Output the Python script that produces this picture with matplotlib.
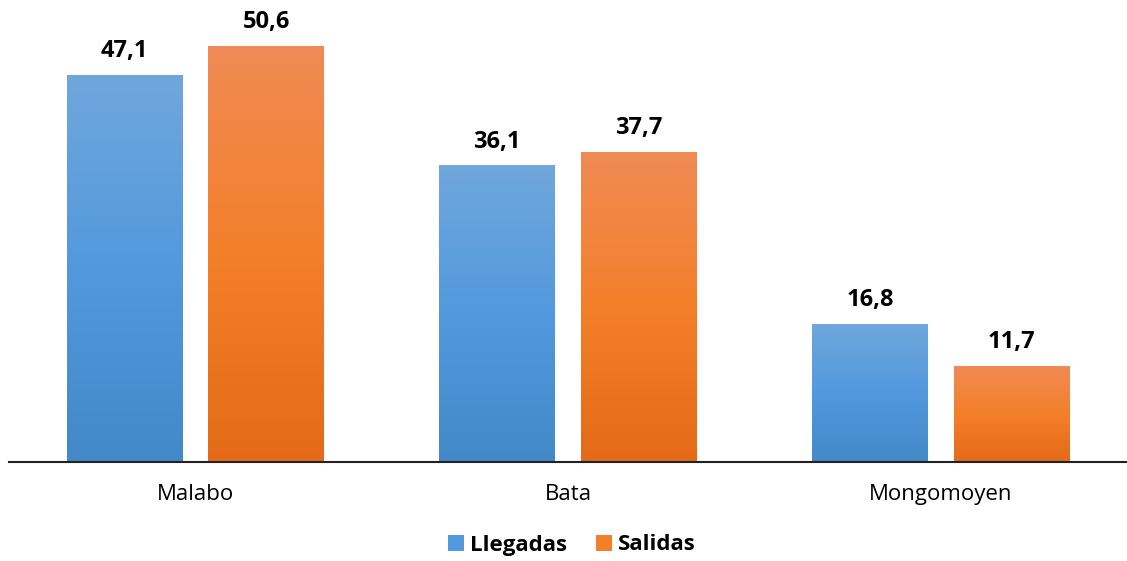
import numpy as np
import matplotlib.pyplot as plt
from matplotlib.colors import LinearSegmentedColormap
from matplotlib.patches import Patch

plt.rcParams['font.family'] = ['Open Sans', 'DejaVu Sans']

categories = ['Malabo', 'Bata', 'Mongomoyen']
llegadas = [47.1, 36.1, 16.8]
salidas = [50.6, 37.7, 11.7]
series_names = ['Llegadas', 'Salidas']

# gradient stops (bottom, middle, top) like the office chart fill
blue_stops = ['#4389c8', '#5299dd', '#70a7dc']
orange_stops = ['#e46a18', '#f47f2a', '#f08b55']


def gradient_bars(ax, bars, stops):
    cmap = LinearSegmentedColormap.from_list('g', stops)
    grad = np.linspace(0, 1, 256).reshape(-1, 1)
    for b in bars:
        x0, y0 = b.get_x(), b.get_y()
        w, h = b.get_width(), b.get_height()
        im = ax.imshow(grad, cmap=cmap, origin='lower', aspect='auto',
                       extent=(x0, x0 + w, y0, y0 + h), zorder=2)
        im.set_clip_path(b)
        b.set_facecolor('none')


fig = plt.figure(figsize=(11.27, 5.61), dpi=100)
ax = fig.add_axes([9 / 1127, 1 - 462 / 561, 1118 / 1127, 452 / 561])

x = np.arange(len(categories))
width = 0.311
off = 0.19
b1 = ax.bar(x - off, llegadas, width, color=blue_stops[1], zorder=2)
b2 = ax.bar(x + off, salidas, width, color=orange_stops[1], zorder=2)
gradient_bars(ax, b1, blue_stops)
gradient_bars(ax, b2, orange_stops)

for bars, vals in ((b1, llegadas), (b2, salidas)):
    for b, v in zip(bars, vals):
        ax.annotate(f'{v:.1f}'.replace('.', ','),
                    (b.get_x() + b.get_width() / 2, v),
                    textcoords='offset points', xytext=(0, 8.5),
                    ha='center', va='bottom', fontsize=17, fontweight='bold')

ax.set_xlim(-0.5, 2.5)
ax.set_ylim(0, 55)
ax.set_xticks(x)
ax.set_xticklabels(categories, fontsize=16)
ax.tick_params(axis='x', length=0, pad=16)
ax.set_yticks([])
for s in ('top', 'right', 'left'):
    ax.spines[s].set_visible(False)
ax.spines['bottom'].set_linewidth(1.5)
ax.spines['bottom'].set_color('#222222')
ax.spines['bottom'].set_zorder(3)

handles = [Patch(facecolor=blue_stops[1]), Patch(facecolor=orange_stops[1])]
fig.legend(handles, series_names, loc='center', bbox_to_anchor=(572 / 1127, 1 - 545 / 561),
           ncol=2, frameon=False, handlelength=0.7, handleheight=0.7,
           handletextpad=0.3, columnspacing=1.3,
           prop={'weight': 'bold', 'size': 16})

fig.savefig('out.png', dpi=100)
